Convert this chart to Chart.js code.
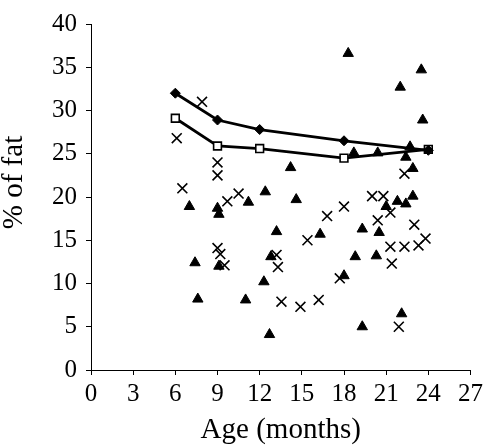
<!DOCTYPE html>
<html>
<head>
<meta charset="utf-8">
<script src="https://cdn.jsdelivr.net/npm/chart.js@4/dist/chart.umd.min.js"></script>
<style>
    html, body { margin: 0; padding: 0; background: #fff; }
    #wrap { width: 487px; height: 448px; }
</style>
</head>
<body>
<div id="wrap"><canvas id="chart-fat"></canvas></div>
<script>
// ages for the two mean lines
const lineAges = [6, 9, 12, 18, 24];
const diamondFat = [32.0, 28.9, 27.8, 26.5, 25.4];
const squareFat = [29.1, 25.9, 25.6, 24.5, 25.5];

// individual measurements, [age, fat]
const trianglePoints = [
    [7.0, 18.9], [9.0, 18.7], [9.1, 18.0], [7.4, 12.4], [9.1, 12.0], [7.6, 8.2],
    [14.2, 23.4], [11.2, 19.4], [12.4, 20.6], [14.6, 19.7], [13.2, 16.0], [16.3, 15.7],
    [12.8, 13.1], [12.3, 10.2], [18.0, 10.9], [11.0, 8.1], [12.7, 4.1],
    [18.3, 36.6], [23.5, 34.7], [22.0, 32.7], [23.6, 28.9], [18.7, 25.1], [20.4, 25.1],
    [22.7, 25.8], [22.4, 24.6], [22.9, 23.3], [21.8, 19.5], [22.9, 20.1], [21.0, 18.9],
    [22.4, 19.2], [19.3, 16.3], [20.5, 15.9], [18.8, 13.1], [20.3, 13.2], [22.1, 6.5], [19.3, 5.0]
];
const crossPoints = [
    [7.9, 31.0], [6.1, 26.8], [6.5, 21.0], [9.0, 24.0], [9.0, 22.5], [9.7, 19.5],
    [9.0, 14.1], [9.2, 13.4], [9.5, 12.1],
    [10.5, 20.4], [16.8, 17.8], [18.0, 18.9], [15.4, 15.0], [13.2, 13.3], [13.3, 11.9],
    [17.7, 10.6], [13.55, 7.9], [14.9, 7.3], [16.2, 8.1],
    [22.3, 22.7], [20.0, 20.1], [20.8, 20.1], [21.3, 18.2], [20.4, 17.3], [23.0, 16.8],
    [23.8, 15.2], [23.3, 14.4], [21.3, 14.25], [22.3, 14.25], [21.4, 12.3], [21.9, 5.0]
];

const xTicks = [0, 3, 6, 9, 12, 15, 18, 21, 24, 27];
const yTicks = [0, 5, 10, 15, 20, 25, 30, 35, 40];

function toXY(list) {
    return list.map(function (p) { return { x: p[0], y: p[1] }; });
}
function lineXY(ys) {
    return lineAges.map(function (a, i) { return { x: a, y: ys[i] }; });
}

const serif = "'Liberation Serif', 'Times New Roman', serif";
const ctx = document.getElementById('chart-fat');

new Chart(ctx, {
    type: 'scatter',
    data: {
        datasets: [
            {
                data: lineXY(diamondFat),
                showLine: true,
                borderColor: '#000',
                borderWidth: 2.8,
                pointStyle: 'rectRot',
                pointRadius: 5,
                pointBackgroundColor: '#000',
                pointBorderColor: '#000',
                pointBorderWidth: 1,
                order: 1
            },
            {
                data: lineXY(squareFat),
                showLine: true,
                borderColor: '#000',
                borderWidth: 2.8,
                pointStyle: 'rect',
                pointRadius: 5.5,
                pointBackgroundColor: '#fff',
                pointBorderColor: '#000',
                pointBorderWidth: 1.6,
                order: 2
            },
            {
                data: toXY(trianglePoints),
                pointStyle: 'triangle',
                pointRadius: 6,
                pointBackgroundColor: '#000',
                pointBorderColor: '#000',
                pointBorderWidth: 1,
                order: 3
            },
            {
                data: toXY(crossPoints),
                pointStyle: 'crossRot',
                pointRadius: 7,
                pointBorderColor: '#000',
                pointBorderWidth: 1.6,
                order: 4
            }
        ]
    },
    options: {
        responsive: true,
        maintainAspectRatio: false,
        animation: false,
        events: [],
        layout: { padding: { top: 14, right: 14, left: 0, bottom: 0 } },
        plugins: {
            legend: { display: false },
            tooltip: { enabled: false }
        },
        scales: {
            x: {
                type: 'linear',
                min: 0,
                max: 27,
                afterBuildTicks: function (axis) {
                    axis.ticks = xTicks.map(function (v) { return { value: v }; });
                },
                afterFit: function (axis) { axis.height = 78; },
                grid: { drawOnChartArea: false, drawTicks: true, tickLength: 5, color: '#000' },
                border: { color: '#000', width: 1 },
                ticks: { color: '#000', padding: 4, maxRotation: 0, font: { family: serif, size: 25 } },
                title: {
                    display: true,
                    text: 'Age (months)',
                    color: '#000',
                    padding: { top: 0, bottom: 0 },
                    font: { family: serif, size: 29 }
                }
            },
            y: {
                type: 'linear',
                min: 0,
                max: 40,
                afterBuildTicks: function (axis) {
                    axis.ticks = yTicks.map(function (v) { return { value: v }; });
                },
                afterFit: function (axis) { axis.width = 91; },
                grid: { drawOnChartArea: false, drawTicks: true, tickLength: 5, color: '#000' },
                border: { color: '#000', width: 1 },
                ticks: { color: '#000', padding: 9, font: { family: serif, size: 25 } },
                title: {
                    display: true,
                    // leading spaces lift the label a little above the axis centre, as in the original
                    text: '    % of fat',
                    color: '#000',
                    padding: { top: 0, bottom: 0 },
                    font: { family: serif, size: 29, lineHeight: 1 }
                }
            }
        }
    }
});
</script>
</body>
</html>
